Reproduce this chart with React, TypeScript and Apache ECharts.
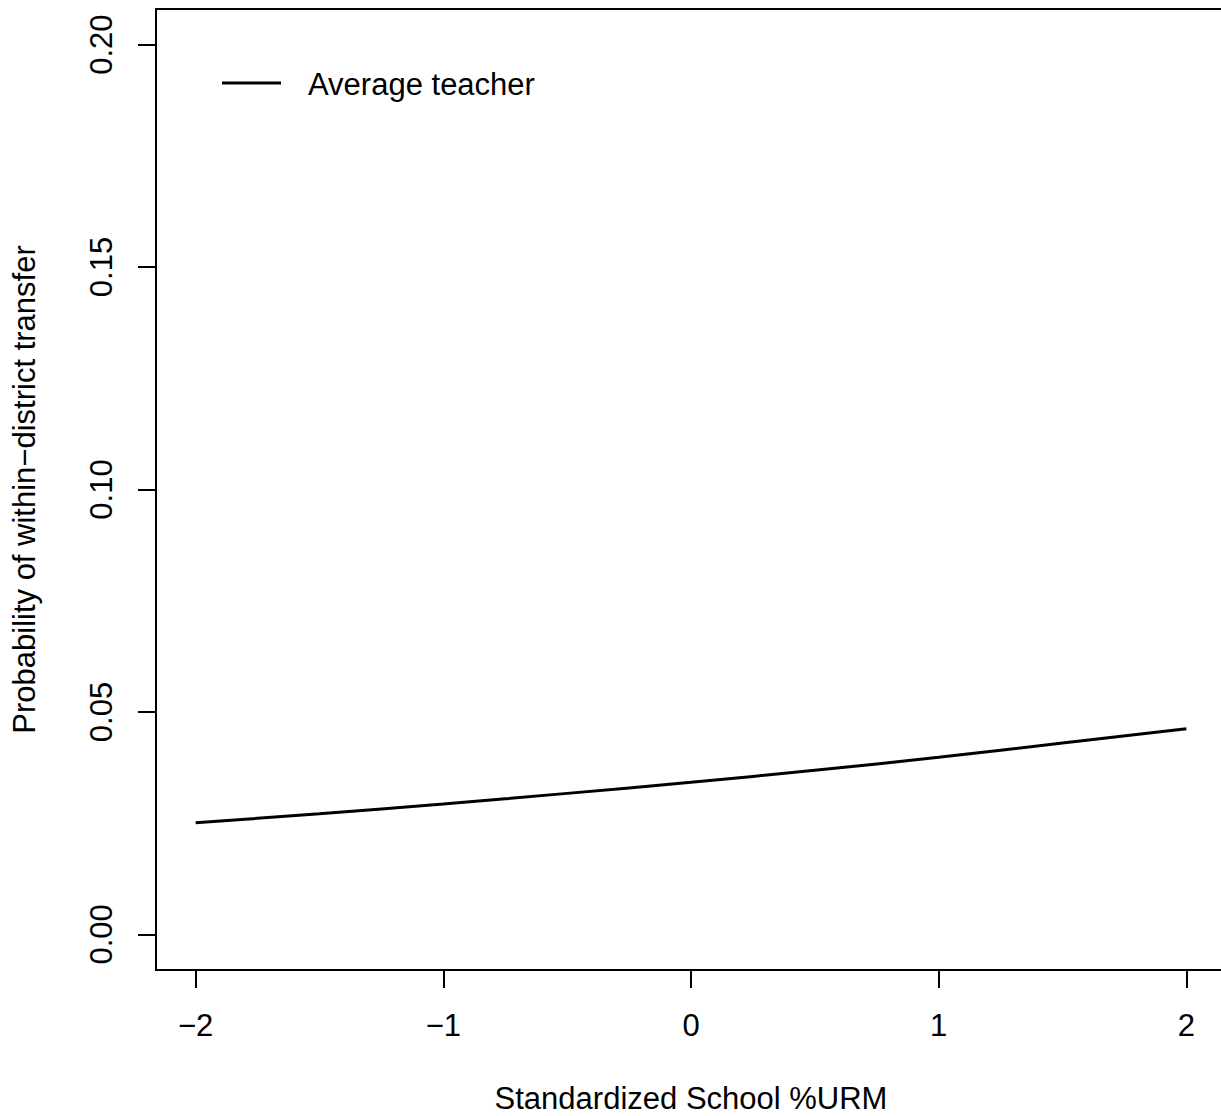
import React, { useEffect, useRef } from "react";
import * as echarts from "echarts";

const xValues = [-2, -1.5, -1, -0.5, 0, 0.5, 1, 1.5, 2];
const avgTeacher = [0.0251, 0.0271, 0.0293, 0.0317, 0.0342, 0.0369, 0.0398, 0.043, 0.0462];
const xTicks = [-2, -1, 0, 1, 2];
const yTicks = [0, 0.05, 0.1, 0.15, 0.2];
const seriesName = "Average teacher";
const xTitle = "Standardized School %URM";
const yTitle = "Probability of within\u2212district transfer";

const FONT = "'Liberation Sans', Arial, Helvetica, sans-serif";
const FS = 31;

export default function App() {
  const ref = useRef<HTMLDivElement>(null);
  useEffect(() => {
    if (!ref.current) return;
    const chart = echarts.init(ref.current, null, { renderer: "svg" });
    const minus = (v: number, d: number) => {
      const s = Math.abs(v).toFixed(d);
      return v < 0 ? "\u2212" + s : s;
    };
    chart.setOption({
      animation: false,
      backgroundColor: "#fff",
      textStyle: { fontFamily: FONT, color: "#000" },
      grid: {
        left: 156,
        top: 9,
        width: 1070,
        height: 961,
        containLabel: false,
        outerBoundsMode: "none",
        show: true,
        borderColor: "#000",
        borderWidth: 2,
        backgroundColor: "transparent",
      },
      xAxis: {
        type: "value",
        min: -2.16,
        max: 2.16,
        axisLine: { show: false, onZero: false },
        splitLine: { show: false },
        axisTick: {
          show: true,
          length: 18,
          customValues: xTicks,
          lineStyle: { color: "#000", width: 2 },
        },
        axisLabel: {
          customValues: xTicks,
          margin: 40,
          fontSize: FS,
          color: "#000",
          fontFamily: FONT,
          formatter: (v: number) => minus(v, 0),
        },
        name: xTitle,
        nameLocation: "middle",
        nameGap: 113,
        nameTextStyle: { fontSize: FS, color: "#000", fontFamily: FONT, verticalAlign: "top" },
      },
      yAxis: {
        type: "value",
        min: -0.008,
        max: 0.208,
        axisLine: { show: false, onZero: false },
        splitLine: { show: false },
        axisTick: {
          show: true,
          length: 18,
          customValues: yTicks,
          lineStyle: { color: "#000", width: 2 },
        },
        axisLabel: {
          customValues: yTicks,
          rotate: 90,
          margin: 39,
          fontSize: FS,
          color: "#000",
          fontFamily: FONT,
          formatter: (v: number) => minus(v, 2),
        },
        name: yTitle,
        nameLocation: "middle",
        nameGap: 116,
        nameRotate: 90,
        nameTextStyle: { fontSize: FS, color: "#000", fontFamily: FONT },
      },
      series: [
        {
          name: seriesName,
          type: "line",
          smooth: true,
          showSymbol: false,
          data: xValues.map((x, i) => [x, avgTeacher[i]]),
          lineStyle: { color: "#000", width: 3 },
          itemStyle: { color: "#000" },
        },
      ],
      graphic: [
        {
          type: "line",
          shape: { x1: 222, y1: 83, x2: 281, y2: 83 },
          style: { stroke: "#000", lineWidth: 3 },
        },
        {
          type: "text",
          x: 308,
          y: 84,
          style: {
            text: seriesName,
            fontSize: FS,
            fontFamily: FONT,
            fill: "#000",
            verticalAlign: "middle",
            align: "left",
          },
        },
      ],
    });
    return () => chart.dispose();
  }, []);
  return (
    <div
      style={{
        position: "absolute",
        left: 0,
        top: 0,
        width: 1221,
        height: 1116,
        overflow: "hidden",
      }}
    >
      <div ref={ref} style={{ width: 1240, height: 1116 }} />
    </div>
  );
}
